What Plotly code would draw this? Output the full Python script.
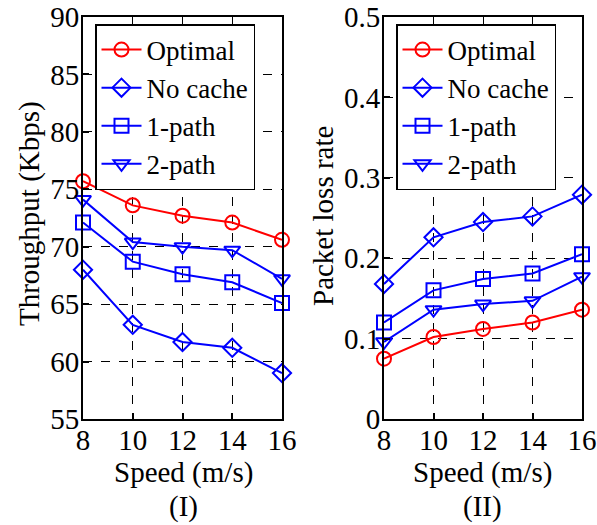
import plotly.graph_objects as go

speed = [8, 10, 12, 14, 16]
series_names = ["Optimal", "No cache", "1-path", "2-path"]
thr_optimal = [75.7, 73.6, 72.7, 72.1, 70.6]
thr_nocache = [68.0, 63.2, 61.7, 61.2, 59.0]
thr_1path = [72.1, 68.7, 67.6, 66.9, 65.1]
thr_2path = [74.1, 70.4, 70.0, 69.7, 67.2]
loss_optimal = [0.075, 0.102, 0.112, 0.120, 0.136]
loss_nocache = [0.168, 0.226, 0.245, 0.252, 0.279]
loss_1path = [0.120, 0.160, 0.174, 0.181, 0.205]
loss_2path = [0.096, 0.136, 0.143, 0.147, 0.177]
thr_ticks = [55, 60, 65, 70, 75, 80, 85, 90]
loss_ticks = [0, 0.1, 0.2, 0.3, 0.4, 0.5]
loss_ticktext = ["0", "0.1", "0.2", "0.3", "0.4", "0.5"]

W, H = 597, 525
FONT = "Liberation Serif"
FS = 29
LFS = 27
colors = ["#ff0000", "#0000ff", "#0000ff", "#0000ff"]
symbols = ["circle-open", "diamond-open", "square-open", "triangle-down-open"]

fig = go.Figure()
thr = [thr_optimal, thr_nocache, thr_1path, thr_2path]
loss = [loss_optimal, loss_nocache, loss_1path, loss_2path]
for i, name in enumerate(series_names):
    fig.add_trace(go.Scatter(x=speed, y=thr[i], name=name, mode="lines+markers",
                             line=dict(color=colors[i], width=2),
                             marker=dict(symbol=symbols[i], size=14, color=colors[i], line=dict(width=2, color=colors[i])),
                             xaxis="x", yaxis="y", legend="legend", cliponaxis=False))
for i, name in enumerate(series_names):
    fig.add_trace(go.Scatter(x=speed, y=loss[i], name=name, mode="lines+markers",
                             line=dict(color=colors[i], width=2),
                             marker=dict(symbol=symbols[i], size=14, color=colors[i], line=dict(width=2, color=colors[i])),
                             xaxis="x2", yaxis="y2", legend="legend2", cliponaxis=False))

ydom = [(H - 419) / H, (H - 17) / H]
axcommon = dict(showline=True, linecolor="black", linewidth=2, mirror=True,
                ticks="inside", ticklen=6, tickcolor="black", tickwidth=1.5,
                showgrid=True, gridcolor="black", gridwidth=1, griddash="dash",
                zeroline=False, automargin=False,
                tickfont=dict(family=FONT, size=FS, color="black"))

legcommon = dict(yanchor="top", xanchor="left", bgcolor="white",
                 bordercolor="black", borderwidth=1.5,
                 font=dict(family=FONT, size=LFS, color="black"),
                 tracegroupgap=0, itemwidth=40)

fig.update_layout(
    width=W, height=H, margin=dict(l=0, r=0, t=0, b=0),
    paper_bgcolor="white", plot_bgcolor="white",
    font=dict(family=FONT, size=FS, color="black"),
    xaxis=dict(domain=[83 / W, 282 / W], range=[8, 16], tickvals=speed, anchor="y",
               ticklabelstandoff=-6, **axcommon),
    yaxis=dict(domain=ydom, range=[55, 90], tickvals=thr_ticks, anchor="x",
               ticklabelstandoff=-4, **axcommon),
    xaxis2=dict(domain=[384 / W, 582 / W], range=[8, 16], tickvals=speed, anchor="y2",
                ticklabelstandoff=-6, **axcommon),
    yaxis2=dict(domain=ydom, range=[0, 0.5], tickvals=loss_ticks, ticktext=loss_ticktext, anchor="x2",
                ticklabelstandoff=-4, **axcommon),
    legend=dict(x=95 / W, y=1 - 24 / H, **legcommon),
    legend2=dict(x=396 / W, y=1 - 24 / H, **legcommon),
    showlegend=True,
)

ann = [
    dict(text="Throughput (Kbps)", x=30 / W, y=1 - 214 / H, textangle=-90),
    dict(text="Packet loss rate", x=323 / W, y=1 - 216 / H, textangle=-90),
    dict(text="Speed (m/s)", x=183 / W, y=1 - 472 / H),
    dict(text="Speed (m/s)", x=483 / W, y=1 - 472 / H),
    dict(text="(I)", x=183 / W, y=1 - 506 / H),
    dict(text="(II)", x=483 / W, y=1 - 506 / H),
]
for a in ann:
    fig.add_annotation(xref="paper", yref="paper", showarrow=False, xanchor="center", yanchor="middle",
                       font=dict(family=FONT, size=FS, color="black"), **a)

fig.write_html("out.html")
